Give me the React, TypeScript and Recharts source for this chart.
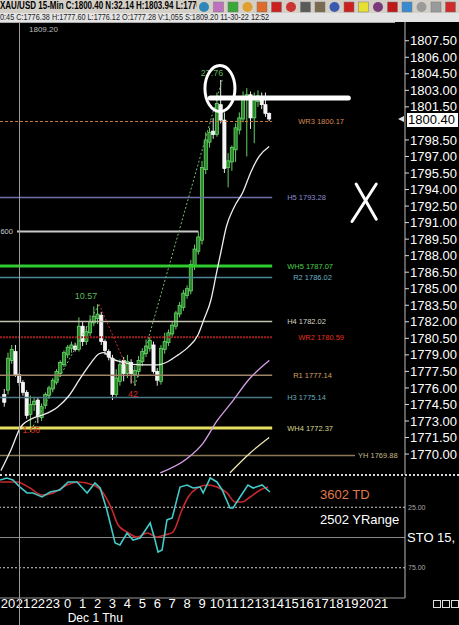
import React from 'react';
import {Bar, ComposedChart, Line, ReferenceDot, ReferenceLine, XAxis, YAxis} from 'recharts';

// 15-min XAU/USD candles, index 0 = 20:00 (Nov 30)
const firstIndex = -1;
const opens = [1775.4, 1775.8, 1778.5, 1779.3, 1777.2, 1776.5, 1775.6, 1773.6, 1774.5, 1774.9, 1773.3, 1774.4, 1775.3, 1775.9, 1776.5, 1777.3, 1778.1, 1779.0, 1779.6, 1779.8, 1779.5, 1781.6, 1780.2, 1781.0, 1781.9, 1782.3, 1782.6, 1780.2, 1779.3, 1778.7, 1775.4, 1776.6, 1778.5, 1777.3, 1778.3, 1777.2, 1777.5, 1778.4, 1779.1, 1779.6, 1779.9, 1777.5, 1776.6, 1779.5, 1780.1, 1780.9, 1781.6, 1782.7, 1783.3, 1784.4, 1784.8, 1787.0, 1788.4, 1789.4, 1795.8, 1798.3, 1799.3, 1799.0, 1801.7, 1800.3, 1796.0, 1796.5, 1797.6, 1799.4, 1800.4, 1802.2, 1802.6, 1800.5, 1802.0, 1802.4, 1801.7, 1800.9];
const highs = [1775.9, 1779.2, 1779.9, 1779.9, 1777.4, 1776.7, 1775.8, 1775.3, 1775.2, 1775.1, 1774.6, 1775.6, 1776.2, 1776.9, 1777.7, 1778.5, 1779.4, 1779.9, 1780.2, 1780.1, 1782.4, 1782.0, 1781.6, 1782.6, 1783.4, 1783.6, 1782.9, 1780.4, 1779.5, 1779.0, 1777.7, 1778.6, 1778.8, 1779.0, 1778.6, 1778.0, 1778.9, 1779.6, 1780.4, 1780.6, 1780.2, 1777.8, 1779.9, 1781.0, 1781.3, 1782.0, 1783.0, 1783.8, 1784.9, 1785.3, 1787.6, 1789.0, 1790.2, 1796.6, 1799.2, 1799.6, 1800.5, 1802.8, 1803.94, 1801.0, 1797.3, 1798.0, 1800.0, 1801.0, 1802.9, 1803.2, 1802.9, 1802.8, 1803.0, 1802.8, 1802.8, 1801.0];
const lows = [1774.3, 1775.4, 1778.2, 1777.0, 1776.2, 1775.3, 1773.2, 1772.0, 1773.9, 1772.8, 1773.0, 1774.1, 1775.0, 1775.6, 1776.3, 1777.0, 1777.9, 1778.7, 1779.2, 1779.3, 1779.3, 1779.8, 1779.9, 1780.7, 1781.6, 1781.8, 1779.9, 1779.0, 1778.5, 1774.9, 1775.1, 1776.2, 1776.6, 1776.9, 1776.4, 1776.2, 1777.0, 1778.0, 1778.8, 1779.3, 1777.3, 1776.2, 1776.3, 1779.1, 1779.8, 1780.6, 1781.3, 1782.4, 1783.0, 1784.1, 1784.5, 1786.7, 1788.1, 1789.0, 1795.4, 1797.8, 1798.6, 1798.8, 1800.0, 1795.5, 1794.2, 1795.7, 1796.5, 1799.0, 1800.1, 1797.0, 1799.5, 1798.2, 1801.5, 1801.3, 1800.6, 1800.2];
const closes = [1774.7, 1778.7, 1779.5, 1777.2, 1776.5, 1775.6, 1773.5, 1774.5, 1774.8, 1773.4, 1774.3, 1775.4, 1776.0, 1776.7, 1777.5, 1778.3, 1779.2, 1779.7, 1779.9, 1779.5, 1781.6, 1780.2, 1781.1, 1782.0, 1782.5, 1782.7, 1780.2, 1779.4, 1778.8, 1775.4, 1776.9, 1778.1, 1777.3, 1778.4, 1777.3, 1777.6, 1778.5, 1779.3, 1779.8, 1780.3, 1777.5, 1776.7, 1779.6, 1780.2, 1781.0, 1781.7, 1782.8, 1783.5, 1784.6, 1785.0, 1787.2, 1788.6, 1789.7, 1796.0, 1798.5, 1799.2, 1799.0, 1801.8, 1800.3, 1795.9, 1796.6, 1797.8, 1799.6, 1800.5, 1802.4, 1802.6, 1800.5, 1802.3, 1802.5, 1801.7, 1800.9, 1800.4];

// moving averages: [candle index, price]
const maFast = [[-1.9, 1768.5], [0.8, 1770.4], [3.5, 1772.5], [7.0, 1773.3], [9.7, 1773.6], [13.4, 1774.3], [16.1, 1775.2], [19.6, 1777.0], [22.3, 1778.3], [24.4, 1779.1], [25.7, 1779.2], [27.6, 1778.7], [31.1, 1778.3], [35.7, 1778.1], [40.2, 1778.1], [42.9, 1778.4], [45.6, 1779.0], [48.3, 1779.7], [50.9, 1780.8], [52.5, 1782.2], [54.4, 1784.0], [55.8, 1786.3], [57.1, 1788.4], [58.5, 1790.6], [60.6, 1792.4], [63.0, 1793.8], [65.1, 1795.6], [67.3, 1797.0], [70.0, 1797.9]];
const maMid = [[40.8, 1768.3], [48.0, 1769.6], [52.3, 1771.0], [56.0, 1773.0], [59.5, 1774.5], [64.9, 1776.9], [70.0, 1778.5]];
const maSlow = [[59.5, 1768.3], [64.9, 1770.1], [70.0, 1771.5]];

// zigzag pivots and their swing labels
const zigPivots = [[6.2, 1772.2], [24.4, 1783.6], [34.0, 1776.2], [57.4, 1803.94]];
const zigLabels = ['1.66', '10.57', '42', '27.76'];
const zigLabelPos = [[6.2, 1772.1], [20.9, 1784.3], [33.5, 1775.4], [54.7, 1804.5]];

// pivot levels
const levelNames = ['WR3', 'H5', 'WH5', 'R2', 'H4', 'WR2', 'R1', 'H3', 'WH4', 'YH'];
const levelValues = [1800.17, 1793.28, 1787.07, 1786.02, 1782.02, 1780.59, 1777.14, 1775.14, 1772.37, 1769.88];
const crossPrice = 1790.2;

const priceTicks = [1770, 1771.5, 1773, 1774.5, 1776, 1777.5, 1779, 1780.5, 1782, 1783.5, 1785, 1786.5, 1788, 1789.5, 1791, 1792.5, 1794, 1795.5, 1797, 1798.5, 1801.5, 1803, 1804.5, 1806, 1807.5];
const hourTicks = [0, 4, 8, 12, 16, 20, 24, 28, 32, 36, 40, 44, 48, 52, 56, 60, 64, 68, 72, 76, 80, 84, 88, 92, 96, 100];
const hourLabels = ['20', '21', '22', '23', '0', '1', '2', '3', '4', '5', '6', '7', '8', '9', '10', '11', '12', '13', '14', '15', '16', '17', '18', '19', '20', '21'];

// stochastic (inverted scale), [candle index, value]
const stochK = [[-2.1, 2.5], [-0.3, 0.8], [1.3, 2.5], [3.2, 8.3], [5.1, 13.2], [6.7, 13.2], [9.1, 16.5], [11.3, 12.4], [13.9, 10.7], [16.1, 4.1], [18.5, 4.1], [21.2, 13.2], [23.3, 5], [24.7, 9.1], [26.5, 27.3], [28.7, 54.5], [30, 56.2], [31.9, 46.3], [33.5, 52.1], [35.4, 50.4], [38.1, 38], [39.4, 52.1], [40.2, 62], [41.3, 60.3], [42.6, 35.5], [44, 33.9], [46.1, 8.3], [48, 6.6], [49.6, 9.1], [51.5, 8.3], [52.3, 13.2], [54.2, 0.8], [56, 4.1], [57.4, 10.7], [59.5, 25.6], [60.3, 25.6], [62.2, 16.5], [64.3, 6.6], [65.7, 9.1], [68.1, 6.6], [70.2, 12.4]];
const stochD = [[-2.1, 4.1], [2.4, 4.1], [5.9, 9.1], [9.1, 14.9], [12.1, 13.2], [15.8, 6.6], [18.8, 4.1], [22.8, 6.6], [25.5, 13.2], [27.9, 27.3], [29.5, 39.7], [31.9, 45.5], [34.6, 49.6], [37.3, 46.3], [39.9, 49.6], [42.1, 47.9], [44.2, 45.5], [46.6, 27.3], [48.3, 16.5], [50.7, 9.1], [53.4, 6.6], [56, 8.3], [58.7, 13.2], [60.9, 20.7], [62.7, 20.7], [64.9, 16.5], [67.6, 10.7], [69.7, 8.3]];
const stochTicks = [25, 75];

const xMin = -2.15;
const xMax = 106.4;
const priceMin = 1768.1;
const priceMax = 1809.2;

const candles = opens.map((o, k) => ({
    i: firstIndex + k,
    o,
    h: highs[k],
    l: lows[k],
    c: closes[k],
    range: [lows[k], highs[k]],
}));
const toPts = (arr: number[][]) => arr.map(([i, v]) => ({i, v}));
const lastClose = closes[closes.length - 1];

const levelStyles: Record<string, {stroke: string; width: number; dash?: string; text: string; end: number; dx: number}> = {
    WR3: {stroke: '#c8783c', width: 1, dash: '3 2', text: '#d88a50', end: 70.8, dx: 26},
    H5: {stroke: '#7070a8', width: 1.5, text: '#8c8cd0', end: 70.8, dx: 15},
    WH5: {stroke: '#2ecc2e', width: 3, text: '#4cd04c', end: 70.8, dx: 15},
    R2: {stroke: '#4a8898', width: 1.5, text: '#6ab4c4', end: 70.8, dx: 21},
    H4: {stroke: '#c4c4b0', width: 1.5, text: '#d4d4c4', end: 70.8, dx: 15},
    WR2: {stroke: '#a01e1e', width: 2, dash: '2 1', text: '#e0301e', end: 70.8, dx: 26},
    R1: {stroke: '#a08468', width: 1.5, text: '#d4a060', end: 70.8, dx: 21},
    H3: {stroke: '#4a7888', width: 1.5, text: '#68a8b8', end: 70.8, dx: 15},
    WH4: {stroke: '#e6e060', width: 3, text: '#d8d890', end: 70.8, dx: 15},
    YH: {stroke: '#8a7858', width: 1.5, text: '#c8b888', end: 93, dx: 3},
};

const toolIcons = ['#2f86b8', '#c070c0', '#38a838', '#e0a030', '#e06a2a', '#cc2020', '#cc3333', '#5a5a5a', '#7a6a50', '#3a5ab0', '#cc2020', '#e8e030', '#7a3a7a', '#c01818', '#3a8ad0', '#9a9a9a', '#9a9a9a', '#d02a2a'];

const CandleShape = (props: any) => {
    const {x, y, width, height, payload} = props;
    if (!payload || height == null) return null;
    const top = Math.min(y, y + height);
    const span = Math.abs(height);
    const {o, h, l, c} = payload;
    const toY = (p: number) => top + ((h - p) / (h - l || 1)) * span;
    const up = c >= o;
    const cx = x + width / 2;
    const bodyTop = toY(Math.max(o, c));
    const bodyH = Math.max(1.2, toY(Math.min(o, c)) - bodyTop);
    return (
        <g>
            <line x1={cx} x2={cx} y1={top} y2={top + span} stroke={up ? '#62d262' : '#e6e6e6'} strokeWidth={1}/>
            <rect x={cx - 1.6} y={bodyTop} width={3.2} height={bodyH} fill={up ? '#2a8a2a' : '#f4f4f4'}
                  stroke={up ? '#78e078' : '#ffffff'} strokeWidth={0.7}/>
        </g>
    );
};

const PriceTag = (props: any) => {
    const {x, y, width} = props.viewBox;
    const left = x + width + 2;
    return (
        <g>
            <path d={`M${left - 9},${y} l6,-3 v6 z`} fill="#dddddd"/>
            <rect x={left} y={y - 6} width={51} height={14} fill="#ffffff"/>
            <text x={left + 1} y={y + 5} fontSize={13} fill="#000">{lastClose.toFixed(2)}</text>
        </g>
    );
};

const HourTick = (props: any) => {
    const {x, y, payload} = props;
    const k = hourTicks.indexOf(payload.value);
    return (
        <g>
            <text x={x} y={y} dy="0.71em" textAnchor="middle" fill="#ffffff" fontSize={13}>{hourLabels[k]}</text>
            {hourLabels[k] === '0' && (
                <text x={x} y={y + 14} dy="0.71em" textAnchor="start" fill="#ffffff" fontSize={12}>Dec 1 Thu</text>
            )}
        </g>
    );
};

export default function App() {
    const zigColors = ['#6fbf6f', '#c83030', '#6fbf6f'];
    const zigTextColors = ['#d03020', '#5cb85c', '#d03020', '#5cb85c'];
    return (
        <div style={{position: 'absolute', left: 0, top: 0, width: 459, height: 625, background: '#000', overflow: 'hidden', fontFamily: '"Liberation Sans", Arial, sans-serif'}}>
            <div style={{position: 'absolute', left: 0, top: 0, width: 459, height: 13, background: '#d4d0c8'}}>
                <div style={{position: 'absolute', left: 0, top: 0, fontSize: 10, fontWeight: 'bold', color: '#000', whiteSpace: 'nowrap', transform: 'scaleX(0.8)', transformOrigin: 'left'}}>
                    XAU/USD 15-Min C:1800.40 N:32.14 H:1803.94 L:1776.12
                </div>
                <svg width={262} height={15} style={{position: 'absolute', left: 197, top: 0, background: '#d4d0c8'}}>
                    {toolIcons.map((col, k) => (
                        k % 3 === 0
                            ? <circle key={k} cx={k * 14.5 + 7} cy={7} r={5} fill={col}/>
                            : <rect key={k} x={k * 14.5 + 2} y={2} width={10} height={10} fill={col} stroke="#777" strokeWidth={0.5}/>
                    ))}
                </svg>
            </div>
            <div style={{position: 'absolute', left: 0, top: 13, width: 459, height: 9, background: '#e4e4e4'}}>
                <div style={{position: 'absolute', left: 0, top: -1, fontSize: 9, color: '#222', whiteSpace: 'nowrap', transform: 'scaleX(0.81)', transformOrigin: 'left'}}>
                    0:45 C:1776.38 H:1777.60 L:1776.12 O:1777.28 V:1,055 S:1809.20 11-30-22 12:52
                </div>
            </div>
            <div style={{position: 'absolute', left: 0, top: 22, width: 395, height: 1, background: '#aaa'}}/>
            <div style={{position: 'absolute', left: 29, top: 25, fontSize: 8, color: '#bbb'}}>1809.20</div>

            <div style={{position: 'absolute', left: 0, top: 22}}>
                <ComposedChart width={459} height={453} data={candles} margin={{top: 0, right: 0, bottom: 0, left: 0}}>
                    <XAxis type="number" dataKey="i" domain={[xMin, xMax]} hide allowDataOverflow/>
                    <YAxis orientation="right" width={54} domain={[priceMin, priceMax]} ticks={priceTicks} interval={0}
                           allowDataOverflow tick={{fill: '#ffffff', fontSize: 13}} tickFormatter={(v: number) => v.toFixed(2)}
                           tickLine={{stroke: '#dddddd'}} tickSize={4} tickMargin={1} axisLine={{stroke: '#bbbbbb'}}/>
                    {levelNames.map((name, k) => {
                        const s = levelStyles[name];
                        return (
                            <ReferenceLine key={name} segment={[{x: xMin, y: levelValues[k]}, {x: s.end, y: levelValues[k]}]}
                                           stroke={s.stroke} strokeWidth={s.width} strokeDasharray={s.dash}
                                           label={{value: `${name} ${levelValues[k].toFixed(2)}`, position: 'right', offset: s.dx, fill: s.text, fontSize: 7.5}}/>
                        );
                    })}
                    <ReferenceLine segment={[{x: 2.4, y: crossPrice}, {x: 51, y: crossPrice}]} stroke="#c8c8c8" strokeWidth={2}
                                   label={{value: '600', position: 'left', offset: 4, fill: '#cccccc', fontSize: 7.5}}/>
                    <Line data={toPts(maSlow)} dataKey="v" type="monotone" stroke="#f0e8b0" strokeWidth={1.3} dot={false} isAnimationActive={false}/>
                    <Line data={toPts(maMid)} dataKey="v" type="monotone" stroke="#d8a0e8" strokeWidth={1.3} dot={false} isAnimationActive={false}/>
                    <Line data={toPts(maFast)} dataKey="v" type="monotone" stroke="#eeeeee" strokeWidth={1.3} dot={false} isAnimationActive={false}/>
                    {zigPivots.slice(1).map((p, k) => (
                        <Line key={`zig${k}`} data={toPts([zigPivots[k], p])} dataKey="v" type="linear" stroke={zigColors[k]}
                              strokeWidth={1} strokeDasharray="2 2" dot={false} isAnimationActive={false}/>
                    ))}
                    <Bar dataKey="range" barSize={3} shape={(p: any) => <CandleShape {...p}/>} isAnimationActive={false}/>
                    {zigLabels.map((t, k) => (
                        <ReferenceDot key={t} x={zigLabelPos[k][0]} y={zigLabelPos[k][1]} r={0}
                                      shape={(p: any) => (
                                          <text x={p.cx} y={p.cy} textAnchor="middle" dominantBaseline="middle" fontSize={9}
                                                fill={zigTextColors[k]}>{t}</text>
                                      )}/>
                    ))}
                    <ReferenceLine segment={[{x: 54.2, y: 1802.3}, {x: 91.2, y: 1802.3}]} stroke="#ffffff" strokeWidth={5} strokeLinecap="round"/>
                    <ReferenceDot x={56.8} y={1803.17} r={0}
                                  shape={(p: any) => <ellipse cx={p.cx} cy={p.cy} rx={15} ry={23} fill="none" stroke="#ffffff" strokeWidth={3}/>}/>
                    <ReferenceLine segment={[{x: 92.2, y: 1791.1}, {x: 98.7, y: 1794.5}]} stroke="#ffffff" strokeWidth={3} strokeLinecap="round"/>
                    <ReferenceLine segment={[{x: 93.3, y: 1794.5}, {x: 98.7, y: 1791.3}]} stroke="#ffffff" strokeWidth={3} strokeLinecap="round"/>
                    <ReferenceLine y={lastClose} stroke="none" label={(p: any) => <PriceTag {...p}/>}/>
                </ComposedChart>
            </div>

            <div style={{position: 'absolute', left: 0, top: 474, width: 459, height: 0, borderTop: '2px dotted #d8d8d8'}}/>

            <div style={{position: 'absolute', left: 0, top: 475}}>
                <ComposedChart width={459} height={150} data={toPts(stochK)} margin={{top: 2, right: 0, bottom: 0, left: 0}}>
                    <XAxis type="number" dataKey="i" domain={[xMin, xMax]} allowDataOverflow ticks={hourTicks} interval={0}
                           height={27} tick={(p: any) => <HourTick {...p}/>} tickLine={false} tickSize={0} tickMargin={1}
                           axisLine={{stroke: '#999999'}}/>
                    <YAxis orientation="right" width={54} domain={[0, 100]} reversed ticks={stochTicks} interval={0}
                           tick={{fill: '#aaaaaa', fontSize: 7}} tickFormatter={(v: number) => v.toFixed(2)}
                           tickLine={false} tickSize={0} tickMargin={3} axisLine={{stroke: '#bbbbbb'}}/>
                    <ReferenceLine y={25} stroke="#d0d0d0" strokeDasharray="2 2"/>
                    <ReferenceLine y={75} stroke="#d0d0d0" strokeDasharray="2 2"/>
                    <ReferenceLine y={50} stroke="#888888"
                                   label={{value: 'STO  15,', position: 'right', offset: 2, fill: '#ffffff', fontSize: 13}}/>
                    <Line data={toPts(stochD)} dataKey="v" type="monotone" stroke="#c8282a" strokeWidth={1.6} dot={false} isAnimationActive={false}/>
                    <Line dataKey="v" type="linear" stroke="#44c8c8" strokeWidth={1.6} dot={false} isAnimationActive={false}/>
                </ComposedChart>
            </div>

            <div style={{position: 'absolute', left: 320, top: 487, fontSize: 13, color: '#e07a4a'}}>3602 TD</div>
            <div style={{position: 'absolute', left: 320, top: 512, fontSize: 13, color: '#ffffff'}}>2502 YRange</div>
            {[0, 1, 2].map((k) => (
                <div key={k} style={{position: 'absolute', left: 433 + k * 9, top: 600, width: 6, height: 6, border: '1px solid #ddd'}}/>
            ))}
            <div style={{position: 'absolute', left: 19, top: 22, width: 1, height: 603, background: '#999'}}/>
        </div>
    );
}
